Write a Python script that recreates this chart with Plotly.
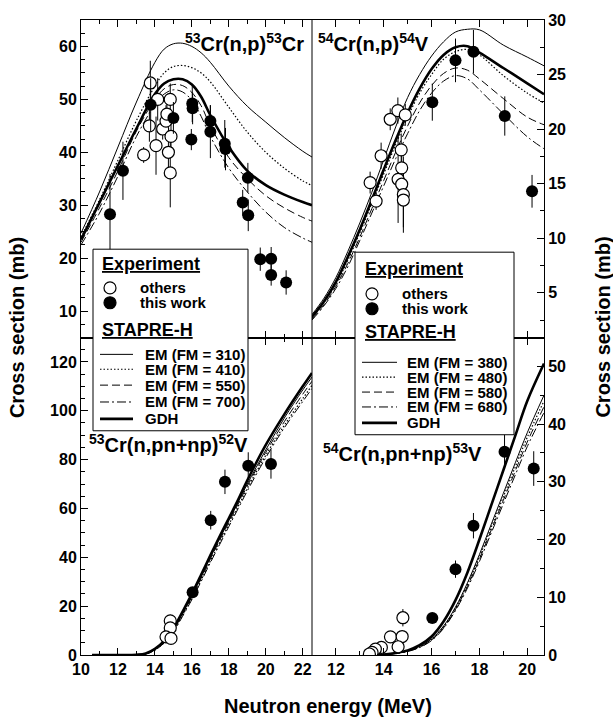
import plotly.graph_objects as go

# ---------------- data ----------------
# Top-left: 53Cr(n,p)
tl_x = [10, 11, 12, 13, 14, 14.5, 15, 15.5, 16, 16.5, 17, 18, 19, 20, 21, 22, 22.5]
tl_em310 = [24.7, 32.5, 41.0, 49.5, 57.0, 59.5, 60.5, 60.6, 60.0, 58.8, 57.0, 52.5, 48.7, 45.7, 42.8, 40.2, 39.1]
tl_em410 = [24.0, 31.0, 38.5, 46.0, 52.5, 55.0, 56.2, 56.4, 56.0, 55.0, 53.3, 48.5, 43.8, 40.0, 37.0, 34.6, 33.7]
tl_em550 = [23.0, 29.5, 36.5, 44.0, 50.0, 52.0, 52.8, 52.6, 51.3, 48.8, 45.0, 39.0, 35.0, 31.8, 29.5, 27.7, 27.0]
tl_em700 = [22.5, 28.5, 35.5, 43.0, 49.0, 51.0, 51.8, 51.4, 49.8, 46.8, 43.0, 37.0, 32.5, 28.7, 25.8, 23.8, 23.0]
tl_gdh = [23.5, 30.5, 37.5, 44.5, 51.0, 53.0, 53.8, 53.8, 52.8, 50.5, 47.0, 41.0, 36.5, 33.8, 32.0, 30.6, 30.0]
tl_tw_x = [11.57, 12.27, 13.77, 15.0, 16.02, 16.04, 15.97, 17.0, 17.0, 17.78, 17.82, 18.75, 19.03, 19.05, 19.7, 20.29, 20.29, 21.1]
tl_tw_y = [28.3, 36.5, 49.0, 46.5, 49.2, 48.3, 42.4, 45.9, 43.9, 41.6, 40.6, 30.5, 35.2, 28.1, 19.8, 19.9, 16.8, 15.4]
tl_tw_e = [7.6, 5.5, 5.0, 3.0, 3.5, 3.0, 2.0, 3.0, 5.0, 4.5, 4.0, 2.4, 2.8, 3.0, 2.2, 2.2, 2.0, 2.3]
tl_ot_x = [13.39, 13.75, 13.7, 14.06, 14.15, 14.42, 14.6, 14.65, 14.73, 14.83, 14.87, 14.83]
tl_ot_y = [39.5, 53.1, 45.0, 41.25, 50.0, 44.4, 45.9, 47.2, 40.0, 50.0, 43.0, 36.1]
tl_ot_e = [1.5, 4.2, 3.0, 5.5, 4.0, 2.0, 3.0, 3.0, 4.5, 3.0, 3.0, 6.5]

# Top-right: 54Cr(n,p)
tr_x = [11, 11.5, 12, 12.5, 13, 13.5, 14, 14.5, 15, 15.5, 16, 16.5, 17, 17.5, 18, 19, 20, 20.7]
tr_em380 = [3.0, 4.5, 6.4, 8.8, 11.4, 14.2, 17.2, 20.2, 22.9, 25.0, 26.7, 28.0, 28.9, 29.15, 29.1, 27.7, 26.6, 25.8]
tr_em480 = [2.7, 4.1, 5.8, 8.0, 10.5, 13.2, 15.9, 18.6, 21.1, 23.3, 25.0, 26.4, 27.1, 27.3, 26.8, 24.9, 23.3, 22.4]
tr_em580 = [2.6, 3.9, 5.6, 7.7, 10.1, 12.7, 15.3, 17.9, 20.3, 22.4, 24.0, 25.1, 25.6, 25.4, 24.6, 22.8, 21.1, 20.4]
tr_em680 = [2.5, 3.8, 5.4, 7.4, 9.8, 12.3, 14.8, 17.3, 19.6, 21.7, 23.3, 24.4, 24.9, 24.6, 23.6, 21.4, 19.3, 18.2]
tr_gdh = [2.8, 4.2, 6.0, 8.3, 10.8, 13.5, 16.3, 19.0, 21.5, 23.7, 25.5, 26.8, 27.5, 27.6, 27.0, 25.6, 24.2, 23.2]
tr_tw_x = [16.03, 17.0, 17.75, 19.06, 20.2]
tr_tw_y = [22.47, 26.3, 27.1, 21.2, 14.3]
tr_tw_e = [1.7, 2.0, 2.0, 1.8, 1.5]
tr_ot_x = [13.43, 13.68, 13.89, 14.27, 14.59, 14.9, 14.73, 14.75, 14.6, 14.75, 14.82, 14.82]
tr_ot_y = [15.1, 13.4, 17.56, 20.9, 21.7, 21.3, 18.1, 16.45, 15.4, 14.95, 14.0, 13.5]
tr_ot_e = [1.0, 0.8, 1.2, 1.0, 1.2, 1.0, 1.5, 1.5, 4.0, 2.0, 3.5, 2.5]

# Bottom-left: 53Cr(n,pn+np)
bl_x = [10.6, 12, 13, 13.5, 14, 14.5, 15, 15.5, 16, 16.5, 17, 17.5, 18, 18.5, 19, 20, 21, 22, 22.5]
bl_em310 = [0, 0, 0.1, 0.5, 2.3, 5.5, 10.5, 17.2, 24.3, 32.0, 40.0, 47.6, 55.0, 62.5, 70.0, 84.0, 97.0, 108.5, 113.8]
bl_em410 = [0, 0, 0.1, 0.4, 2.1, 5.1, 9.8, 16.3, 23.2, 30.7, 38.5, 46.0, 53.4, 60.8, 68.2, 81.8, 94.0, 105.0, 110.4]
bl_em550 = [0, 0, 0.1, 0.5, 2.2, 5.3, 10.2, 16.8, 23.8, 31.4, 39.3, 46.9, 54.3, 61.8, 69.2, 83.0, 95.5, 106.8, 112.1]
bl_em700 = [0, 0, 0.1, 0.4, 2.0, 4.9, 9.5, 15.9, 22.7, 30.1, 37.8, 45.2, 52.6, 59.9, 67.2, 80.8, 93.0, 103.8, 109.1]
bl_gdh = [0, 0, 0.1, 0.6, 2.5, 5.8, 11.0, 17.8, 25.0, 32.8, 40.8, 48.5, 56.0, 63.5, 71.5, 86.0, 98.5, 110.0, 115.5]
bl_tw_x = [16.04, 17.02, 17.79, 19.05, 20.28]
bl_tw_y = [25.7, 55.2, 70.9, 77.5, 78.2]
bl_tw_e = [2.0, 3.8, 5.0, 5.5, 6.0]
bl_ot_x = [14.83, 14.83, 14.6, 14.87]
bl_ot_y = [14.0, 11.1, 7.45, 6.8]
bl_ot_e = [2.5, 1.5, 1.5, 1.5]

# Bottom-right: 54Cr(n,pn+np)
br_x = [13.6, 14, 14.5, 15, 15.5, 16, 16.5, 17, 17.5, 18, 18.5, 19, 19.5, 20, 20.7]
br_em380 = [0, 0.1, 0.3, 0.7, 1.5, 2.8, 5.0, 8.3, 12.5, 17.4, 22.7, 28.0, 33.3, 38.5, 45.0]
br_em480 = [0, 0.1, 0.3, 0.7, 1.4, 2.7, 4.9, 8.1, 12.2, 17.0, 22.2, 27.4, 32.6, 37.7, 44.0]
br_em580 = [0, 0.1, 0.3, 0.65, 1.35, 2.6, 4.7, 7.9, 11.9, 16.6, 21.7, 26.8, 31.9, 36.9, 43.0]
br_em680 = [0, 0.1, 0.3, 0.6, 1.3, 2.5, 4.6, 7.7, 11.6, 16.2, 21.2, 26.2, 31.2, 36.1, 42.0]
br_gdh = [0, 0.1, 0.35, 0.8, 1.7, 3.2, 5.8, 9.5, 14.3, 20.0, 26.0, 32.0, 38.0, 44.0, 50.5]
br_tw_x = [16.03, 17.0, 17.75, 19.05, 20.27]
br_tw_y = [6.4, 14.87, 22.4, 35.2, 32.3]
br_tw_e = [0.8, 1.5, 2.2, 3.0, 3.0]
br_ot_x = [14.8, 14.28, 14.77, 14.6, 13.9, 13.65, 13.51, 13.4]
br_ot_y = [6.46, 3.14, 3.2, 1.43, 1.31, 1.03, 0.46, 0.17]
br_ot_e = [1.5, 0.5, 0.5, 0.5, 0.3, 0.3, 0.2, 0.2]

left_fm = ["310", "410", "550", "700"]
right_fm = ["380", "480", "580", "680"]

# ---------------- layout geometry ----------------
W, H = 613, 727
L, R, T, B = 81, 69, 15, 72
PW, PH = W - L - R, H - T - B
def px(p):
    return (p - L) / PW
def py(p):
    return (H - B - p) / PH
XS = px(312)

FONT = "Liberation Sans, Arial, Helvetica, sans-serif"

STY = {
    "em1": dict(width=1, dash="solid"),
    "em2": dict(width=1.2, dash="1.5px,2px"),
    "em3": dict(width=1, dash="8px,4px"),
    "em4": dict(width=1, dash="9px,3px,2px,3px"),
    "gdh": dict(width=2.6, dash="solid"),
}

fig = go.Figure()

def add_curves(xa, ya, xs, series):
    for key, ys in series:
        fig.add_trace(go.Scatter(x=xs, y=ys, mode="lines", xaxis=xa, yaxis=ya,
                                 line=dict(color="black", shape="spline", **STY[key]),
                                 showlegend=False, hoverinfo="skip"))

def add_points(xa, ya, ox, oy, oe, tx, ty, te):
    fig.add_trace(go.Scatter(x=ox, y=oy, mode="markers", xaxis=xa, yaxis=ya,
                             marker=dict(size=12, color="white", line=dict(color="black", width=1.2)),
                             error_y=dict(type="data", array=oe, thickness=1, width=0, color="black"),
                             showlegend=False))
    fig.add_trace(go.Scatter(x=tx, y=ty, mode="markers", xaxis=xa, yaxis=ya,
                             marker=dict(size=12, color="black", line=dict(width=0)),
                             error_y=dict(type="data", array=te, thickness=1, width=0, color="black"),
                             showlegend=False))

add_curves("x3", "y3", tl_x, [("em1", tl_em310), ("em2", tl_em410), ("em3", tl_em550), ("em4", tl_em700), ("gdh", tl_gdh)])
add_points("x3", "y3", tl_ot_x, tl_ot_y, tl_ot_e, tl_tw_x, tl_tw_y, tl_tw_e)
add_curves("x4", "y4", tr_x, [("em1", tr_em380), ("em2", tr_em480), ("em3", tr_em580), ("em4", tr_em680), ("gdh", tr_gdh)])
add_points("x4", "y4", tr_ot_x, tr_ot_y, tr_ot_e, tr_tw_x, tr_tw_y, tr_tw_e)
add_curves("x", "y", bl_x, [("em1", bl_em310), ("em2", bl_em410), ("em3", bl_em550), ("em4", bl_em700), ("gdh", bl_gdh)])
add_points("x", "y", bl_ot_x, bl_ot_y, bl_ot_e, bl_tw_x, bl_tw_y, bl_tw_e)
add_curves("x2", "y2", br_x, [("em1", br_em380), ("em2", br_em480), ("em3", br_em580), ("em4", br_em680), ("gdh", br_gdh)])
add_points("x2", "y2", br_ot_x, br_ot_y, br_ot_e, br_tw_x, br_tw_y, br_tw_e)

tickfont = dict(family=FONT, size=16, color="black", weight="bold")
def ax(**kw):
    d = dict(showline=True, linecolor="black", linewidth=1, ticks="inside", ticklen=7,
             tickwidth=1, tickcolor="black", showgrid=False, zeroline=False,
             tickfont=tickfont, fixedrange=True)
    d.update(kw)
    return d

minor1 = dict(ticks="inside", ticklen=4, tickcolor="black", tickwidth=1, showgrid=False)

fig.update_layout(
    width=W, height=H, margin=dict(l=L, r=R, t=T, b=B),
    paper_bgcolor="white", plot_bgcolor="white", showlegend=False,
    font=dict(family=FONT, color="black"),
    xaxis=ax(domain=[0, XS], anchor="y", range=[10, 22.5], dtick=2, tick0=0, mirror="ticks",
             minor=dict(dtick=1, **minor1)),
    yaxis=ax(domain=[0, 0.5], anchor="x", range=[0, 130], dtick=20, tick0=0,
             minor=dict(dtick=5, **minor1)),
    xaxis2=ax(domain=[XS, 1], anchor="y2", range=[11, 20.7], dtick=2, tick0=0, mirror="ticks",
              minor=dict(dtick=1, **minor1)),
    yaxis2=ax(domain=[0, 0.5], anchor="x2", side="right", range=[0, 55], dtick=10, tick0=0,
              minor=dict(dtick=5, **minor1)),
    xaxis3=ax(domain=[0, XS], anchor="y3", range=[10, 22.5], dtick=2, tick0=0, mirror="ticks",
              showticklabels=False, minor=dict(dtick=1, **minor1)),
    yaxis3=ax(domain=[0.5, 1], anchor="x3", range=[5, 65], dtick=10, tick0=0,
              minor=dict(dtick=2.5, **minor1)),
    xaxis4=ax(domain=[XS, 1], anchor="y4", range=[11, 20.7], dtick=2, tick0=0, mirror="ticks",
              showticklabels=False, minor=dict(dtick=1, **minor1)),
    yaxis4=ax(domain=[0.5, 1], anchor="x4", side="right", range=[0.9, 30.0], dtick=5, tick0=0,
              minor=dict(dtick=2.5, **minor1)),
)

shapes = []
annos = []
# divider line between left and right panels
shapes.append(dict(type="line", xref="paper", yref="paper", x0=XS, x1=XS, y0=0, y1=1,
                   line=dict(color="black", width=1), layer="above"))

def legend_box(x0, x1, y0, y1, head_x, exp_y, marker_x, text_x, oth_y, tw_y, stap_y,
               line_x0, line_x1, line_text_x, line_ys, fms):
    shapes.append(dict(type="rect", xref="paper", yref="paper", x0=px(x0), x1=px(x1),
                       y0=py(y1), y1=py(y0), fillcolor="white",
                       line=dict(color="black", width=1), layer="above"))
    annos.append(dict(x=px(head_x), y=py(exp_y), xref="paper", yref="paper", xanchor="left",
                      yanchor="middle", showarrow=False, text="<b><u>Experiment</u></b>",
                      font=dict(family=FONT, size=18, color="black")))
    for yy, fill, label in [(oth_y, "white", "others"), (tw_y, "black", "this work")]:
        shapes.append(dict(type="circle", xref="paper", yref="paper",
                           xsizemode="pixel", ysizemode="pixel",
                           xanchor=px(marker_x), yanchor=py(yy), x0=-6, x1=6, y0=-6, y1=6,
                           fillcolor=fill, line=dict(color="black", width=1.2), layer="above"))
        annos.append(dict(x=px(text_x), y=py(yy), xref="paper", yref="paper", xanchor="left",
                          yanchor="middle", showarrow=False, text="<b>%s</b>" % label,
                          font=dict(family=FONT, size=15, color="black")))
    annos.append(dict(x=px(head_x), y=py(stap_y), xref="paper", yref="paper", xanchor="left",
                      yanchor="middle", showarrow=False, text="<b><u>STAPRE-H</u></b>",
                      font=dict(family=FONT, size=18, color="black")))
    keys = ["em1", "em2", "em3", "em4", "gdh"]
    labels = ["EM (FM = %s)" % f for f in fms] + ["GDH"]
    for key, lab, yy in zip(keys, labels, line_ys):
        shapes.append(dict(type="line", xref="paper", yref="paper", x0=px(line_x0), x1=px(line_x1),
                           y0=py(yy), y1=py(yy), line=dict(color="black", **STY[key]), layer="above"))
        annos.append(dict(x=px(line_text_x), y=py(yy), xref="paper", yref="paper", xanchor="left",
                          yanchor="middle", showarrow=False, text="<b>%s</b>" % lab,
                          font=dict(family=FONT, size=15, color="black")))

legend_box(93, 248, 246, 429, 100, 261, 110, 138, 285, 300, 327,
           100, 133, 143, [352, 367, 383, 400, 417], left_fm)
legend_box(355, 514, 249, 433, 363, 266, 372, 400, 291, 306, 329,
           362, 397, 405, [360, 375, 390, 405, 421], right_fm)

# panel titles
annos.append(dict(x=px(306), y=py(38), xref="paper", yref="paper", xanchor="right", yanchor="middle",
                  showarrow=False, text="<b><sup>53</sup>Cr(n,p)<sup>53</sup>Cr</b>",
                  font=dict(family=FONT, size=20, color="black")))
annos.append(dict(x=px(316), y=py(38), xref="paper", yref="paper", xanchor="left", yanchor="middle",
                  showarrow=False, text="<b><sup>54</sup>Cr(n,p)<sup>54</sup>V</b>",
                  font=dict(family=FONT, size=20, color="black")))
annos.append(dict(x=px(87), y=py(442), xref="paper", yref="paper", xanchor="left", yanchor="middle",
                  showarrow=False, text="<b><sup>53</sup>Cr(n,pn+np)<sup>52</sup>V</b>",
                  font=dict(family=FONT, size=20, color="black")))
annos.append(dict(x=px(321), y=py(451), xref="paper", yref="paper", xanchor="left", yanchor="middle",
                  showarrow=False, text="<b><sup>54</sup>Cr(n,pn+np)<sup>53</sup>V</b>",
                  font=dict(family=FONT, size=20, color="black")))

# axis titles
annos.append(dict(x=px(16.5), y=py(325), xref="paper", yref="paper", xanchor="center", yanchor="middle",
                  showarrow=False, textangle=-90, text="<b>Cross section (mb)</b>",
                  font=dict(family=FONT, size=20, color="black")))
annos.append(dict(x=px(603), y=py(325), xref="paper", yref="paper", xanchor="center", yanchor="middle",
                  showarrow=False, textangle=-90, text="<b>Cross section (mb)</b>",
                  font=dict(family=FONT, size=20, color="black")))
annos.append(dict(x=px(328), y=py(706), xref="paper", yref="paper", xanchor="center", yanchor="middle",
                  showarrow=False, text="<b>Neutron energy (MeV)</b>",
                  font=dict(family=FONT, size=20, color="black")))

fig.update_layout(shapes=shapes, annotations=annos)
fig.write_html("out.html", config={"displayModeBar": False, "staticPlot": True},
               post_script="document.body.style.margin='0';document.body.style.padding='0';"
                           "document.documentElement.style.overflow='hidden';")
